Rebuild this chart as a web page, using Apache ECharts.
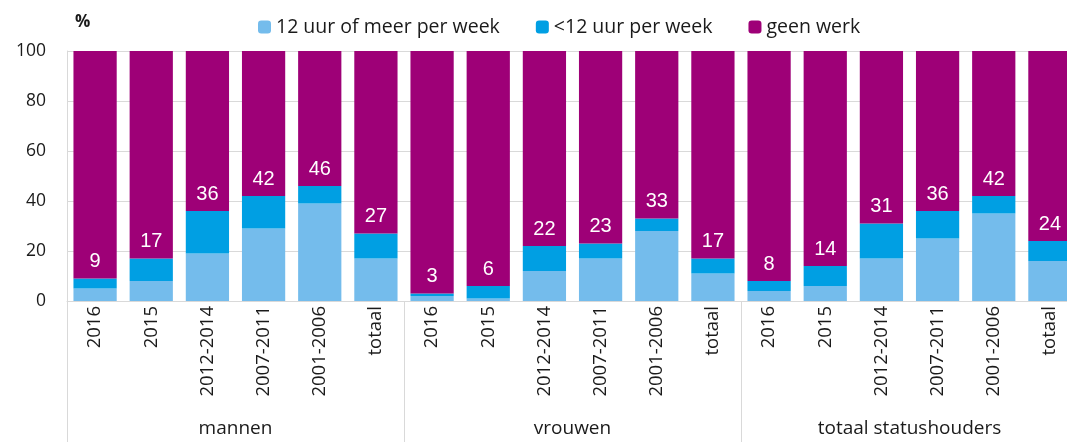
<!DOCTYPE html>
<html>
<head>
<meta charset="utf-8">
<script src="https://cdn.jsdelivr.net/npm/echarts@6/dist/echarts.min.js"></script>
<style>
  html, body { margin: 0; padding: 0; background: #fff; }
  #chart { width: 1067px; height: 442px; }
</style>
</head>
<body>
<div id="chart"></div>
<script>
// categorieen
var periodes = ['2016', '2015', '2012-2014', '2007-2011', '2001-2006', 'totaal',
                '2016', '2015', '2012-2014', '2007-2011', '2001-2006', 'totaal',
                '2016', '2015', '2012-2014', '2007-2011', '2001-2006', 'totaal'];
var groepen = ['mannen', 'vrouwen', 'totaal statushouders'];

// waarden in %
var meer12 = [5, 8, 19, 29, 39, 17,   2, 1, 12, 17, 28, 11,   4, 6, 17, 25, 35, 16];
var minder12 = [4, 9, 17, 13, 7, 10,  1, 5, 10, 6, 5, 6,      4, 8, 14, 11, 7, 8];
var geenWerk = [91, 83, 64, 58, 54, 73,  97, 94, 78, 77, 67, 83,  92, 86, 69, 64, 58, 76];
// getoonde totalen (werkend)
var werkend = [9, 17, 36, 42, 46, 27,  3, 6, 22, 23, 33, 17,  8, 14, 31, 36, 42, 24];

var yTicks = [0, 20, 40, 60, 80, 100];

var chart = echarts.init(document.getElementById('chart'));
var option = {
    animation: false,
    textStyle: { fontFamily: '"Open Sans", sans-serif' },
    grid: { left: 67, top: 51, bottom: 141, width: 1011, outerBoundsMode: 'none', containLabel: false },
    legend: {
        top: 12,
        left: 253,
        itemWidth: 13,
        itemHeight: 13,
        itemGap: 36,
        textStyle: { fontSize: 19.5, color: '#1a1a1a', fontFamily: '"Open Sans", sans-serif' },
        data: ['12 uur of meer per week', '<12 uur per week', 'geen werk']
    },
    graphic: [{
        type: 'text',
        left: 75, top: 14,
        style: { text: '%', font: 'bold 17px "Open Sans", sans-serif', fill: '#1a1a1a' }
    }],
    xAxis: [{
        type: 'category',
        data: periodes,
        position: 'bottom',
        axisLine: { lineStyle: { color: '#d9d9d9' } },
        axisTick: { show: false },
        axisLabel: { rotate: 90, fontSize: 18.5, color: '#1a1a1a', margin: 5, interval: 0 }
    }, {
        type: 'category',
        data: groepen,
        position: 'bottom',
        axisLine: { show: false },
        axisTick: { show: true, length: 141, lineStyle: { color: '#d9d9d9' } },
        axisLabel: { fontSize: 19, color: '#1a1a1a', margin: 118 }
    }],
    yAxis: {
        type: 'value',
        min: 0, max: 100, interval: 20,
        axisLine: { show: true, lineStyle: { color: '#d9d9d9' } },
        axisTick: { show: false },
        splitLine: { lineStyle: { color: '#d9d9d9' } },
        axisLabel: {
            fontSize: 17.5, color: '#1a1a1a', margin: 21,
            formatter: function (v) { return yTicks.indexOf(v) >= 0 ? String(v) : ''; }
        }
    },
    series: [{
        name: '12 uur of meer per week',
        type: 'bar', stack: 'a', barWidth: '77%',
        itemStyle: { color: '#74BCEC' },
        data: meer12
    }, {
        name: '<12 uur per week',
        type: 'bar', stack: 'a',
        itemStyle: { color: '#009FE3' },
        label: {
            show: true, position: 'top', distance: 7,
            color: '#fff', fontSize: 20, fontFamily: '"Liberation Sans", Arial',
            formatter: function (p) { return werkend[p.dataIndex]; }
        },
        data: minder12
    }, {
        name: 'geen werk',
        type: 'bar', stack: 'a',
        itemStyle: { color: '#9E0077' },
        data: geenWerk
    }]
};
chart.setOption(option);
</script>
</body>
</html>
